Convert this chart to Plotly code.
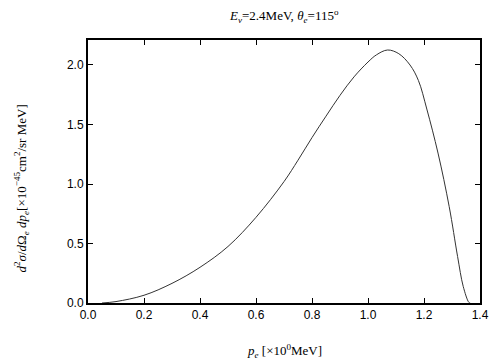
import plotly.graph_objects as go

# Curve
p_e = [0.05, 0.10, 0.20, 0.30, 0.40, 0.50, 0.60, 0.70, 0.75, 0.80, 0.85, 0.90,
       0.95, 1.00, 1.03, 1.07, 1.11, 1.15, 1.18, 1.21, 1.25, 1.29, 1.32, 1.34,
       1.36, 1.365]
xsec = [0.0, 0.012, 0.065, 0.165, 0.30, 0.475, 0.72, 1.02, 1.20, 1.39, 1.57, 1.745,
        1.90, 2.025, 2.085, 2.126, 2.095, 2.00, 1.87, 1.63, 1.26, 0.81, 0.39, 0.14,
        0.006, 0.0]

x_ticks = [0.0, 0.2, 0.4, 0.6, 0.8, 1.0, 1.2, 1.4]
y_ticks = [0.0, 0.5, 1.0, 1.5, 2.0]

fig = go.Figure()
fig.add_trace(go.Scatter(x=p_e, y=xsec, mode="lines",
                         line=dict(color="#333333", width=1, shape="spline", smoothing=1.0),
                         showlegend=False, hoverinfo="skip"))

axis_common = dict(showgrid=False, zeroline=False, showline=True, linecolor="black",
                   linewidth=2, mirror="ticks", ticks="inside", ticklen=5,
                   tickcolor="black", tickwidth=1,
                   tickfont=dict(family="Liberation Sans, Arial", size=12, color="black"))

fig.update_xaxes(range=[0, 1.4], tickvals=x_ticks,
                 ticktext=[f"{v:.1f}" for v in x_ticks], **axis_common)
fig.update_yaxes(range=[0, 2.21], tickvals=y_ticks,
                 ticktext=[f"{v:.1f}" for v in y_ticks], **axis_common)

serif = dict(family="Liberation Serif, Times New Roman, serif", size=13, color="black")

fig.add_annotation(text="<i>E<sub>ν</sub></i>=2.4MeV, <i>θ<sub>e</sub></i>=115<sup>o</sup>",
                   xref="paper", yref="paper", x=0.5, y=1.0, yshift=24,
                   showarrow=False, font=serif, xanchor="center", yanchor="middle")
fig.add_annotation(text="<i>p<sub>e</sub></i> [×10<sup>0</sup>MeV]",
                   xref="paper", yref="paper", x=0.5, y=0, yshift=-48,
                   showarrow=False, font=serif, xanchor="center", yanchor="middle")
fig.add_annotation(text="<i>d</i><sup>2</sup><i>σ</i>/<i>d</i>Ω<sub><i>e</i></sub> <i>dp<sub>e</sub></i>[×10<sup>−45</sup>cm<sup>2</sup>/sr MeV]",
                   xref="paper", yref="paper", x=0, xshift=-67, y=0.5, yshift=-17,
                   textangle=-90, showarrow=False, font=serif,
                   xanchor="center", yanchor="middle")

# page body has an 8px margin, so the figure is 8px smaller and offset
fig.update_layout(width=496, height=352, margin=dict(l=80, r=24, t=32, b=57),
                  plot_bgcolor="white", paper_bgcolor="white")

fig.write_html("out.html")
